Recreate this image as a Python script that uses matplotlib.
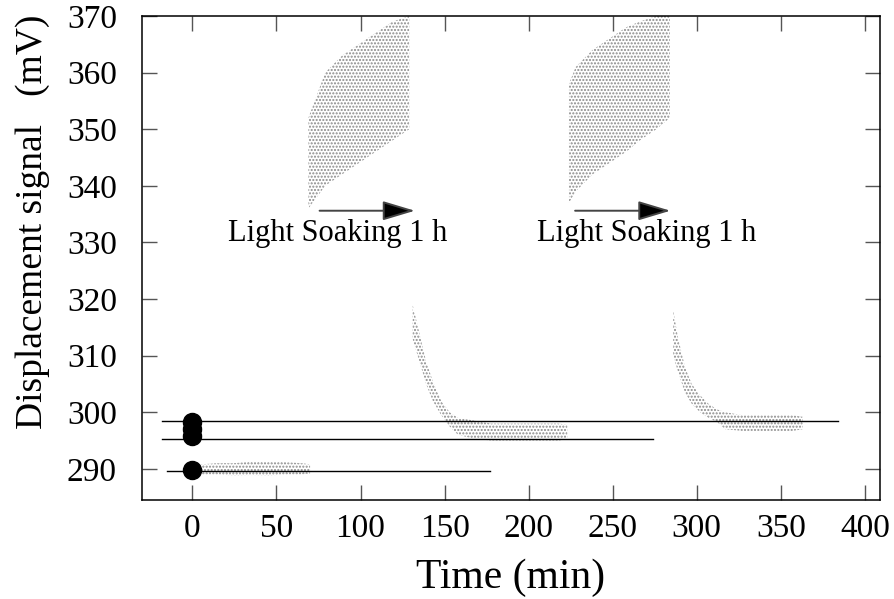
import matplotlib.pyplot as plt

plt.rcParams['font.family'] = ['Liberation Serif', 'DejaVu Serif']
plt.rcParams['hatch.linewidth'] = 1.0

# Baseline before light soaking (~290 mV)
base_t = [5, 15, 25, 35, 45, 55, 65, 70]
base_lo = [289.0, 289.0, 288.8, 288.9, 288.8, 289.0, 289.0, 289.2]
base_hi = [290.8, 291.0, 291.0, 291.3, 291.2, 291.2, 291.0, 290.8]

# First light soaking (1 h)
soak1_t = [69, 74, 79, 89, 99, 109, 119, 129]
soak1_lo = [336, 338, 340, 342, 344, 346, 348, 350]
soak1_hi = [352, 356, 360, 363, 365, 367, 369, 370]

# Relaxation after first soaking
decay1_t = [131, 135, 139, 143, 148, 153, 158, 168, 178, 188, 198, 208, 218, 223]
decay1_lo = [313, 309, 305, 302, 299.5, 297.5, 296, 295.3, 295, 295, 295, 295, 295, 295.3]
decay1_hi = [319, 314, 309, 305.5, 302, 300, 299, 298.5, 298, 298, 298, 298, 298, 297.8]

# Second light soaking (1 h)
soak2_t = [224, 228, 238, 248, 258, 266, 276, 284]
soak2_lo = [337, 339, 342, 344, 346, 348, 350, 352]
soak2_hi = [358, 361, 364, 366, 368, 369, 370, 370]

# Relaxation after second soaking
decay2_t = [286, 289, 293, 297, 302, 307, 312, 317, 327, 337, 347, 357, 363]
decay2_lo = [310, 307, 303.5, 301.5, 300, 299, 298.3, 297, 296.7, 296.7, 296.7, 296.7, 297]
decay2_hi = [318, 313, 308, 305, 303, 301.5, 300.5, 300, 299.5, 299.5, 299.5, 299.5, 299.2]

# Reference levels (horizontal lines) and the markers at t = 0
ref_y = [298.5, 295.3, 289.7]
ref_start = [-18, -18, -15]
ref_end = [384, 274, 177]
circle_t = [0, 0, 0, 0]
circle_y = [298.3, 297.0, 295.8, 289.8]

# Light soaking annotations
arrow_start = [74, 226]
arrow_end = [134, 286]
arrow_y = 335.6
label_x = [86.5, 270]
label_y = 331.5

fig = plt.figure(figsize=(8.94, 5.99), dpi=100)
ax = fig.add_axes([0.1588, 0.1653, 0.8255, 0.808])

segments = [(base_t, base_lo, base_hi), (soak1_t, soak1_lo, soak1_hi),
            (decay1_t, decay1_lo, decay1_hi), (soak2_t, soak2_lo, soak2_hi),
            (decay2_t, decay2_lo, decay2_hi)]
for t, lo, hi in segments:
    ax.fill_between(t, lo, hi, facecolor='none', edgecolor='#8a8a8a',
                    hatch='.....', linewidth=0)

for y, x0, x1 in zip(ref_y, ref_start, ref_end):
    ax.plot([x0, x1], [y, y], color='black', lw=1.0)

ax.plot(circle_t, circle_y, 'o', color='black', markersize=13, zorder=5)

for x0, x1, xl in zip(arrow_start, arrow_end, label_x):
    ax.annotate('', xy=(x1, arrow_y), xytext=(x0, arrow_y),
                arrowprops=dict(arrowstyle='-|>,head_length=2.0,head_width=0.6',
                                facecolor='black', edgecolor='#444444', lw=1.4))
    ax.text(xl, label_y, 'Light Soaking 1 h', fontsize=22,
            ha='center', va='center')

ax.set_xlim(-30, 409)
ax.set_ylim(284.5, 370)
ax.set_xticks(range(0, 401, 50))
ax.set_yticks(range(290, 371, 10))
ax.tick_params(direction='in', length=11, width=1.0, color='#555555',
               top=True, right=True, labelsize=24)
ax.tick_params(axis='y', pad=18)
ax.tick_params(axis='x', pad=10)
for s in ax.spines.values():
    s.set_linewidth(1.1)

ax.set_xlabel('Time (min)', fontsize=30, labelpad=10)
ax.set_ylabel('Displacement signal   (mV)', fontsize=27)
ax.yaxis.set_label_coords(-0.125, 0.574)

fig.savefig('out.png', dpi=100)
